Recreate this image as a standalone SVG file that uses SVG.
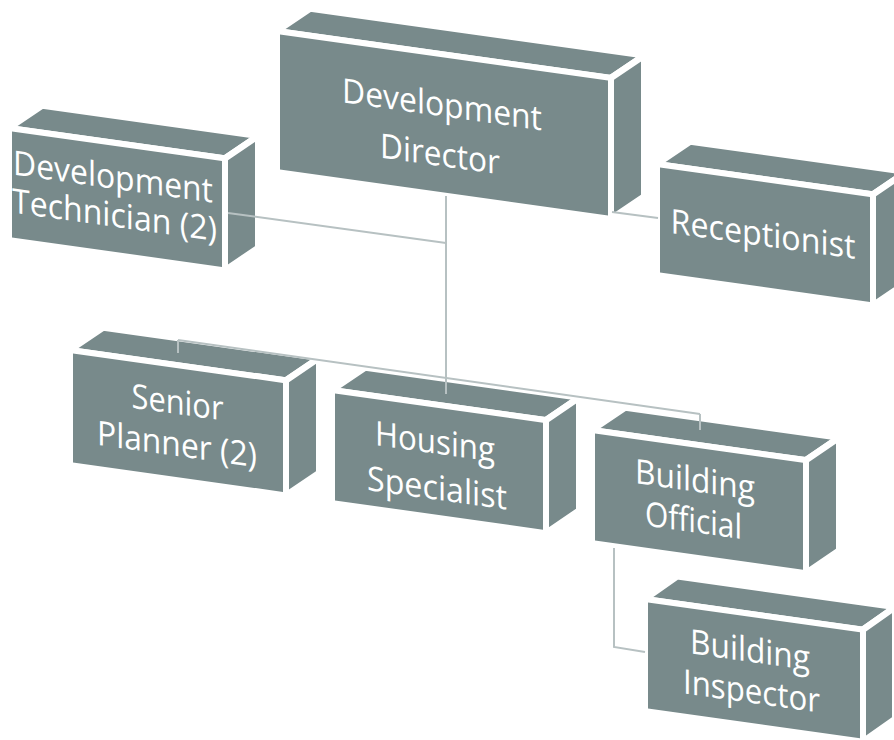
<svg xmlns="http://www.w3.org/2000/svg" width="894" height="740" viewBox="0 0 894 740">
<style>
.face{fill:#788a8b;stroke:#ffffff;stroke-width:6;stroke-linejoin:miter}
.lbl{font-family:"Open Sans","Liberation Sans",sans-serif;font-size:34px;fill:#ffffff;text-anchor:middle;lengthAdjust:spacingAndGlyphs}
.conn{stroke:#b7c1c2;stroke-width:2;fill:none}
</style>
<rect width="894" height="740" fill="#ffffff"/>
<g id="node-dd" transform="translate(277,31) skewY(8)">
<polygon class="face" points="0,0 334,0 367,-27 33,-27"/>
<polygon class="face" points="334,0 367,-27 367,114 334,141"/>
<rect class="face" x="0" y="0" width="334" height="141"/>
<text class="lbl" x="165" y="62" textLength="200" lengthAdjust="spacingAndGlyphs">Development</text>
<text class="lbl" x="163" y="112" textLength="120" lengthAdjust="spacingAndGlyphs">Director</text>
</g>
<g id="node-dt" transform="translate(9,128) skewY(8)">
<polygon class="face" points="0,0 216,0 249,-27 33,-27"/>
<polygon class="face" points="216,0 249,-27 249,85 216,112"/>
<rect class="face" x="0" y="0" width="216" height="112"/>
<text class="lbl" x="104" y="46" textLength="200" lengthAdjust="spacingAndGlyphs">Development</text>
<text class="lbl" x="105.5" y="84" textLength="205" lengthAdjust="spacingAndGlyphs">Technician (2)</text>
</g>
<g id="node-rec" transform="translate(657,164) skewY(8)">
<polygon class="face" points="0,0 216,0 249,-27 33,-27"/>
<polygon class="face" points="216,0 249,-27 249,84 216,111"/>
<rect class="face" x="0" y="0" width="216" height="111"/>
<text class="lbl" x="106" y="67" textLength="185" lengthAdjust="spacingAndGlyphs">Receptionist</text>
</g>
<g id="node-sp" transform="translate(70,350) skewY(8)">
<polygon class="face" points="0,0 216,0 249,-27 33,-27"/>
<polygon class="face" points="216,0 249,-27 249,88 216,115"/>
<rect class="face" x="0" y="0" width="216" height="115"/>
<text class="lbl" x="107.5" y="49" textLength="92" lengthAdjust="spacingAndGlyphs">Senior</text>
<text class="lbl" x="107" y="91" textLength="160" lengthAdjust="spacingAndGlyphs">Planner (2)</text>
</g>
<g id="node-hs" transform="translate(332,390) skewY(8)">
<polygon class="face" points="0,0 214,0 247,-27 33,-27"/>
<polygon class="face" points="214,0 247,-27 247,86 214,113"/>
<rect class="face" x="0" y="0" width="214" height="113"/>
<text class="lbl" x="103" y="49" textLength="120" lengthAdjust="spacingAndGlyphs">Housing</text>
<text class="lbl" x="105" y="95" textLength="140" lengthAdjust="spacingAndGlyphs">Specialist</text>
</g>
<g id="node-bo" transform="translate(592,430) skewY(8)">
<polygon class="face" points="0,0 214,0 247,-27 33,-27"/>
<polygon class="face" points="214,0 247,-27 247,86 214,113"/>
<rect class="face" x="0" y="0" width="214" height="113"/>
<text class="lbl" x="103" y="47" textLength="120" lengthAdjust="spacingAndGlyphs">Building</text>
<text class="lbl" x="101.5" y="88" textLength="97" lengthAdjust="spacingAndGlyphs">Official</text>
</g>
<g id="node-bi" transform="translate(645,599) skewY(8)">
<polygon class="face" points="0,0 218,0 250,-27 32,-27"/>
<polygon class="face" points="218,0 250,-27 250,85 218,112"/>
<rect class="face" x="0" y="0" width="218" height="112"/>
<text class="lbl" x="105" y="48" textLength="120" lengthAdjust="spacingAndGlyphs">Building</text>
<text class="lbl" x="106.5" y="89" textLength="137" lengthAdjust="spacingAndGlyphs">Inspector</text>
</g>
<g id="connectors" class="conn">
<line x1="446" y1="196" x2="446" y2="394"/>
<line x1="228" y1="213" x2="446" y2="243"/>
<line x1="612" y1="212" x2="658" y2="218"/>
<line x1="178" y1="340" x2="700" y2="414"/>
<line x1="178" y1="340" x2="178" y2="353"/>
<line x1="700" y1="414" x2="700" y2="430"/>
<polyline points="614,548 614,647 645,652"/>
</g>
</svg>
